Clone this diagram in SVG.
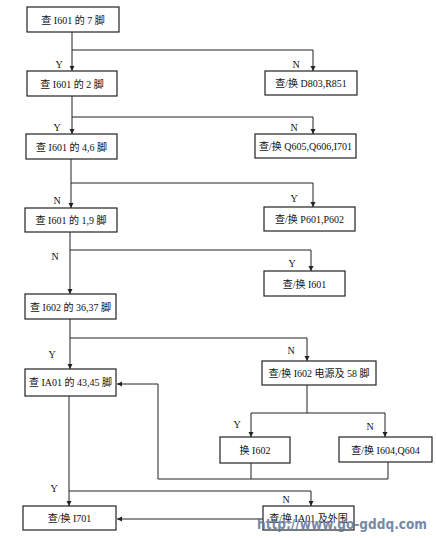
<svg xmlns="http://www.w3.org/2000/svg" width="436" height="538" viewBox="0 0 436 538">
<defs>
<marker id="ah" markerWidth="6" markerHeight="6" refX="5" refY="3" orient="auto" markerUnits="userSpaceOnUse">
<path d="M0,0.5 L5,3 L0,5.5 Z" fill="#222"/>
</marker>
<style>
.box{fill:#fff;stroke:#222;stroke-width:1.2}
.t{font-family:"Liberation Serif","Noto Sans CJK SC",serif;font-size:10px;fill:#111;text-anchor:middle}
.l{font-family:"Liberation Serif",serif;font-size:10px;fill:#111;text-anchor:middle}
.c{fill:none;stroke:#222;stroke-width:1}
.a{marker-end:url(#ah)}
.wm{font-family:"DejaVu Sans","Liberation Sans",sans-serif;font-weight:bold;font-size:14px;fill:#5f7596;opacity:0.85}
</style>
</defs>
<rect width="436" height="538" fill="#fff"/>
<g id="connectors">
<path class="c a" d="M72,32 V71"/>
<path class="c a" d="M72,50 H313 V71"/>
<path class="c a" d="M72,96 V134"/>
<path class="c a" d="M72,117 H313 V134"/>
<path class="c a" d="M71,159 V208"/>
<path class="c a" d="M71,183 H313 V207"/>
<path class="c a" d="M70,232 V294"/>
<path class="c a" d="M70,250 H311 V271"/>
<path class="c a" d="M70,319 V369"/>
<path class="c a" d="M70,338 H307 V361"/>
<path class="c" d="M307,385 V413"/>
<path class="c a" d="M251,413 H385 V437"/>
<path class="c a" d="M251,413 V437"/>
<path class="c" d="M251,463 V479"/>
<path class="c" d="M388,462 V479"/>
<path class="c a" d="M388,479 H158 V384 H117"/>
<path class="c a" d="M69,396 V506"/>
<path class="c a" d="M69,491 H311 V506"/>
<path class="c a" d="M263,519 H117"/>
</g>
<g id="labels">
<text class="l" x="59" y="68">Y</text>
<text class="l" x="296" y="68">N</text>
<text class="l" x="57" y="131">Y</text>
<text class="l" x="294" y="131">N</text>
<text class="l" x="57" y="204">N</text>
<text class="l" x="294" y="202">Y</text>
<text class="l" x="55" y="260">N</text>
<text class="l" x="292" y="267">Y</text>
<text class="l" x="52" y="358">Y</text>
<text class="l" x="291" y="354">N</text>
<text class="l" x="237" y="428">Y</text>
<text class="l" x="370" y="430">N</text>
<text class="l" x="54" y="492">Y</text>
<text class="l" x="286" y="503">N</text>
</g>
<g id="n1"><rect class="box" x="27" y="7" width="92" height="25"/><text class="t" x="73" y="23.5">查 I601 的 7 脚</text></g>
<g id="n2"><rect class="box" x="27" y="71" width="90" height="25"/><text class="t" x="72" y="87.5">查 I601 的 2 脚</text></g>
<g id="n3"><rect class="box" x="265" y="71" width="92" height="24"/><text class="t" x="311" y="87">查/换 D803,R851</text></g>
<g id="n4"><rect class="box" x="26" y="134" width="91" height="25"/><text class="t" x="71.5" y="150.5">查 I601 的 4,6 脚</text></g>
<g id="n5"><rect class="box" x="255" y="134" width="101" height="24"/><text class="t" x="305.5" y="150">查/换 Q605,Q606,I701</text></g>
<g id="n6"><rect class="box" x="25" y="208" width="92" height="24"/><text class="t" x="71" y="224">查 I601 的 1,9 脚</text></g>
<g id="n7"><rect class="box" x="264" y="207" width="91" height="24"/><text class="t" x="309.5" y="223">查/换 P601,P602</text></g>
<g id="n8"><rect class="box" x="264" y="271" width="81" height="25"/><text class="t" x="304.5" y="287.5">查/换 I601</text></g>
<g id="n9"><rect class="box" x="25" y="294" width="91" height="25"/><text class="t" x="70.5" y="310.5">查 I602 的 36,37 脚</text></g>
<g id="n10"><rect class="box" x="25" y="369" width="91" height="27"/><text class="t" x="70.5" y="386">查 IA01 的 43,45 脚</text></g>
<g id="n11"><rect class="box" x="262" y="361" width="114" height="24"/><text class="t" x="319" y="377">查/换 I602 电源及 58 脚</text></g>
<g id="n12"><rect class="box" x="220" y="437" width="70" height="26"/><text class="t" x="255" y="454">换 I602</text></g>
<g id="n13"><rect class="box" x="339" y="437" width="93" height="25"/><text class="t" x="385.5" y="453.5">查/换 I604,Q604</text></g>
<g id="n14"><rect class="box" x="23" y="506" width="93" height="24"/><text class="t" x="69.5" y="522">查/换 I701</text></g>
<g id="n15"><rect class="box" x="263" y="506" width="91" height="24"/><text class="t" x="308.5" y="522">查/换 IA01 及外围</text></g>
<text class="wm" x="257" y="529" textLength="170" lengthAdjust="spacingAndGlyphs">http://www.go-gddq.com</text>
</svg>
